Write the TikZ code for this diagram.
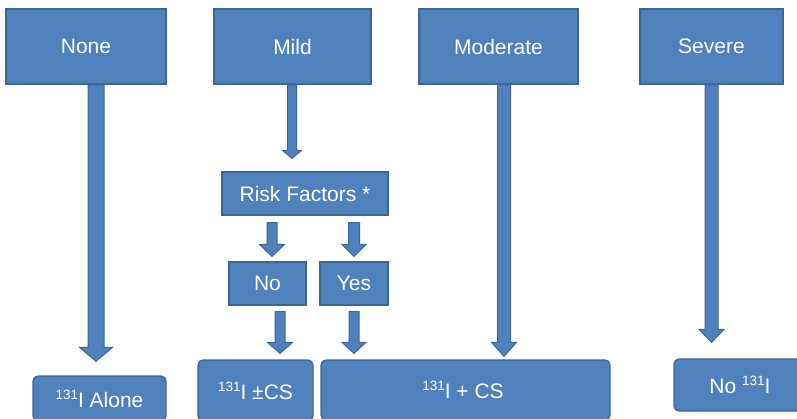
\documentclass[tikz,border=0pt]{standalone}
\usepackage{fontspec}
\setmainfont{Liberation Sans}
\usetikzlibrary{calc,backgrounds}
\definecolor{boxfill}{HTML}{4F81BD}
\definecolor{boxline}{HTML}{3D6596}
\newcommand\iso{\raisebox{8pt}{\fontsize{13.5}{13.5}\selectfont 131}I}
% #1 x, #2 from anchor, #3 start gap, #4 to anchor, #5 end gap, #6 half shaft, #7 half head, #8 head length
\newcommand\blockarr[8]{%
  \path[blockarrow] let \p1=(#2 -| #1,0), \p2=(#4 -| #1,0) in
    (\x1-#6pt,\y1-#3pt) -- (\x1+#6pt,\y1-#3pt) -- (\x1+#6pt,\y2+#5pt+#8pt)
    -- (\x1+#7pt,\y2+#5pt+#8pt) -- (\x1,\y2+#5pt) -- (\x1-#7pt,\y2+#5pt+#8pt)
    -- (\x1-#6pt,\y2+#5pt+#8pt) -- cycle;}
\tikzset{
  topbox/.style={draw=boxline, fill=boxfill, line width=1.5pt, text=white,
    font=\fontsize{21}{25}\selectfont, inner sep=0pt, minimum height=75},
  midbox/.style={draw=boxline, fill=boxfill, line width=1.3pt, text=white,
    font=\fontsize{21}{25}\selectfont, inner sep=0pt, minimum height=43},
  endbox/.style={draw=boxline, fill=boxfill, line width=1.3pt, text=white,
    font=\fontsize{21}{25}\selectfont, inner sep=0pt, rounded corners=5pt},
  blockarrow/.style={draw=boxline, fill=boxfill, line width=1pt, line join=miter}
}
\begin{document}
\begin{tikzpicture}[x=1pt, y=-1pt]
\useasboundingbox (0,0) rectangle (797,418);
\clip (0,0) rectangle (797,418);
% top row
\node[topbox, minimum width=160] (none) at (86,46.5) {None};
\node[topbox, minimum width=157] (mild) at (292.5,46.5) {Mild};
\node[topbox, minimum width=159] (moderate) at (498.5,46.5) {Moderate};
\node[topbox, minimum width=143] (severe) at (711.5,46.5) {Severe};
% middle
\node[midbox, minimum width=166] (risk) at (305,193.5) {Risk Factors *};
\node[midbox, minimum width=77] (no) at (267.5,283.5) {No};
\node[midbox, minimum width=68] (yes) at (354,283.5) {Yes};
% bottom
\node[endbox, minimum width=133, minimum height=45] (alone) at (99.5,398.5) {\iso\ Alone};
\node[endbox, minimum width=115, minimum height=61] (pmcs) at (255.5,390.5) {\iso\ ±CS};
\node[endbox, minimum width=289, minimum height=60] (pcs) at (465.5,390) {\hspace*{-5pt}\iso\ + CS};
\node[endbox, minimum width=132, minimum height=52] (no131) at (740,385) {No \iso};
% arrows
\begin{scope}[on background layer]
\blockarr{96}{none.south}{0}{alone.north}{14}{8}{16.5}{14}
\blockarr{292}{mild.south}{0}{risk.north}{13}{4.5}{9.5}{8}
\blockarr{272}{risk.south}{7}{no.north}{5}{5}{12.5}{12}
\blockarr{354}{risk.south}{7}{yes.north}{5}{5.5}{12}{12}
\blockarr{280}{no.south}{6}{pmcs.north}{6}{5}{12.5}{11}
\blockarr{354}{yes.south}{6}{pcs.north}{6}{5}{12}{11}
\blockarr{504}{moderate.south}{0}{pcs.north}{3}{6.5}{12.5}{14}
\blockarr{711.5}{severe.south}{0}{no131.north}{16}{6.5}{12.5}{13}
\end{scope}
\end{tikzpicture}
\end{document}
